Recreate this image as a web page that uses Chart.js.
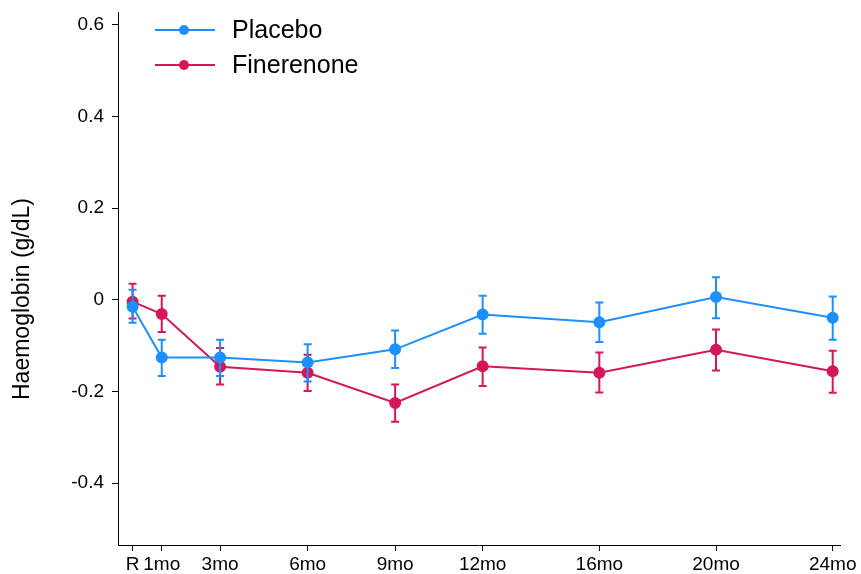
<!DOCTYPE html>
<html>
<head>
<meta charset="utf-8">
<title>Haemoglobin</title>
<script src="https://cdn.jsdelivr.net/npm/chart.js@4.4.0/dist/chart.umd.min.js"></script>
<style>
  html, body { margin: 0; padding: 0; background: #fff; }
  #wrap { width: 861px; height: 574px; }
</style>
</head>
<body>
<div id="wrap"><canvas id="hbChart" width="861" height="574"></canvas></div>
<script>
// visit positions (months) and their tick labels
const months = [0, 1, 3, 6, 9, 12, 16, 20, 24];
const visitLabels = ['R', '1mo', '3mo', '6mo', '9mo', '12mo', '16mo', '20mo', '24mo'];

// mean change and 95% CI
const placebo = [-0.015, -0.126, -0.126, -0.137, -0.108, -0.032, -0.049, 0.006, -0.039];
const placeboLow = [-0.050, -0.166, -0.166, -0.178, -0.149, -0.074, -0.092, -0.040, -0.087];
const placeboHigh = [0.022, -0.087, -0.087, -0.097, -0.067, 0.009, -0.006, 0.049, 0.007];

const finerenone = [-0.004, -0.031, -0.146, -0.159, -0.225, -0.145, -0.159, -0.109, -0.156];
const finerenoneLow = [-0.041, -0.070, -0.185, -0.199, -0.266, -0.188, -0.202, -0.154, -0.203];
const finerenoneHigh = [0.035, 0.009, -0.105, -0.120, -0.185, -0.104, -0.115, -0.065, -0.111];

const yTicks = [-0.4, -0.2, 0, 0.2, 0.4, 0.6];

const blue = '#1e8fff';
const red = '#d4175a';
const FONT = '"Liberation Sans", Arial, Helvetica, sans-serif';

function points(ys) {
  return months.map((m, i) => ({ x: m, y: ys[i] }));
}

// error bars, drawn right after each dataset so layering follows dataset order
const errorBars = {
  id: 'errorBars',
  afterDatasetDraw(chart, args) {
    const ds = chart.data.datasets[args.index];
    if (!ds.low) return;
    const { ctx, scales: { x, y } } = chart;
    ctx.save();
    ctx.strokeStyle = ds.borderColor;
    ctx.lineWidth = 2;
    months.forEach((m, i) => {
      const px = x.getPixelForValue(m);
      const top = y.getPixelForValue(ds.high[i]);
      const bot = y.getPixelForValue(ds.low[i]);
      ctx.beginPath();
      ctx.moveTo(px, top); ctx.lineTo(px, bot);
      ctx.moveTo(px - 4, top); ctx.lineTo(px + 4, top);
      ctx.moveTo(px - 4, bot); ctx.lineTo(px + 4, bot);
      ctx.stroke();
    });
    ctx.restore();
  }
};

// legend inside the plot + y axis title
const extras = {
  id: 'extras',
  afterDraw(chart) {
    const ctx = chart.ctx;
    ctx.save();
    chart.data.datasets.forEach((ds, i) => {
      const yy = 30 + i * 35;
      ctx.strokeStyle = ds.borderColor;
      ctx.lineWidth = 2;
      ctx.beginPath();
      ctx.moveTo(155, yy); ctx.lineTo(215, yy);
      ctx.stroke();
      ctx.fillStyle = ds.borderColor;
      ctx.beginPath();
      ctx.arc(184, yy, 5, 0, Math.PI * 2);
      ctx.fill();
      ctx.fillStyle = '#000';
      ctx.font = '25px ' + FONT;
      ctx.textBaseline = 'middle';
      ctx.fillText(ds.label, 232, yy + 1);
    });
    ctx.translate(23, 299);
    ctx.rotate(-Math.PI / 2);
    ctx.font = '23px ' + FONT;
    ctx.textAlign = 'center';
    ctx.textBaseline = 'middle';
    ctx.fillStyle = '#000';
    ctx.fillText('Haemoglobin (g/dL)', 0, 0);
    ctx.restore();
  }
};

new Chart(document.getElementById('hbChart'), {
  type: 'line',
  data: {
    datasets: [
      {
        label: 'Placebo',
        data: points(placebo),
        low: placeboLow,
        high: placeboHigh,
        borderColor: blue,
        backgroundColor: blue,
        borderWidth: 2,
        pointRadius: 5,
        pointHoverRadius: 5,
        tension: 0
      },
      {
        label: 'Finerenone',
        data: points(finerenone),
        low: finerenoneLow,
        high: finerenoneHigh,
        borderColor: red,
        backgroundColor: red,
        borderWidth: 2,
        pointRadius: 5,
        pointHoverRadius: 5,
        tension: 0
      }
    ]
  },
  options: {
    responsive: false,
    animation: false,
    events: [],
    layout: { padding: { top: 12, right: 21, left: 0, bottom: 0 } },
    plugins: {
      legend: { display: false },
      tooltip: { enabled: false }
    },
    scales: {
      x: {
        type: 'linear',
        min: -0.5,
        max: 24.25,
        afterBuildTicks: s => { s.ticks = months.map(v => ({ value: v })); },
        afterFit: s => { s.height = 29; },
        ticks: {
          autoSkip: false,
          maxRotation: 0,
          color: '#000',
          padding: 2,
          font: { family: FONT, size: 19 },
          callback: v => visitLabels[months.indexOf(v)]
        },
        grid: { drawOnChartArea: false, drawTicks: true, tickLength: 6, color: '#000' },
        border: { display: true, color: '#000', width: 1 }
      },
      y: {
        min: -0.535,
        max: 0.628,
        afterBuildTicks: s => { s.ticks = yTicks.map(v => ({ value: v })); },
        afterFit: s => { s.width = 118; s.paddingTop = 0; s.paddingBottom = 0; },
        ticks: {
          color: '#000',
          padding: 8,
          font: { family: FONT, size: 19 },
          callback: v => String(Math.round(v * 10) / 10)
        },
        grid: { drawOnChartArea: false, drawTicks: true, tickLength: 6, color: '#000' },
        border: { display: true, color: '#000', width: 1 }
      }
    }
  },
  plugins: [errorBars, extras]
});
</script>
</body>
</html>
